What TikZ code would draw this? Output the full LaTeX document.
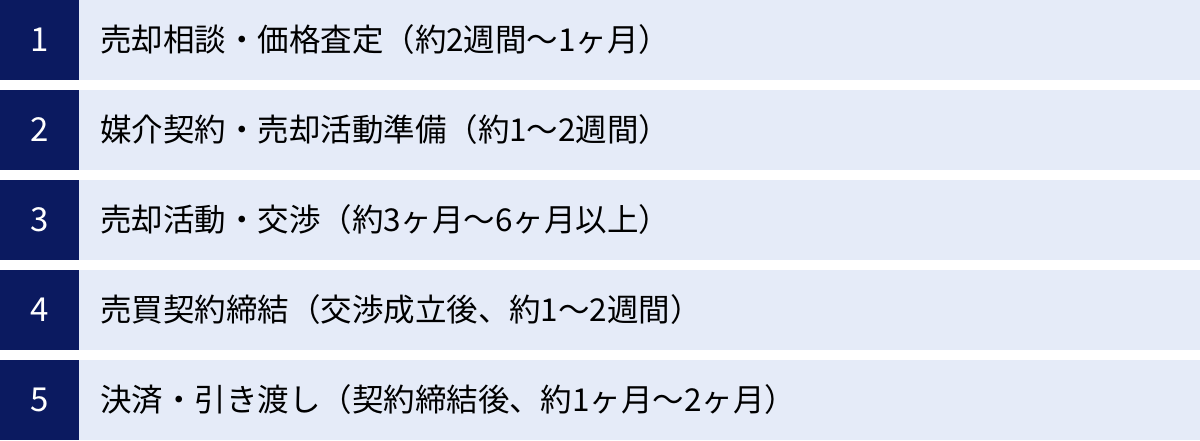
\documentclass[tikz,border=0pt]{standalone}
\usepackage{fontspec}
\setmainfont{Noto Sans CJK JP}
\usetikzlibrary{positioning}
\definecolor{navy}{HTML}{0B1A60}
\definecolor{pale}{HTML}{E5EBF8}

\begin{document}
\begin{tikzpicture}[x=1pt, y=1pt,
	num/.style={fill=navy, text=white, minimum width=79pt, minimum height=80pt, inner sep=0pt, outer sep=0pt, font=\fontsize{33}{38}\selectfont},
	band/.style={fill=pale, text width=1079pt, inner xsep=21pt, inner ysep=0pt, minimum height=80pt, outer sep=0pt, align=left, font=\fontsize{31.5}{38}\selectfont}]
	\useasboundingbox (0,0) rectangle (1200,-441);

	\node[num, anchor=north west] (n1) at (0,0) {1};
	\node[num, below=10pt of n1] (n2) {2};
	\node[num, below=10pt of n2] (n3) {3};
	\node[num, below=10pt of n3] (n4) {4};
	\node[num, below=10pt of n4] (n5) {5};

	\node[band, right=0pt of n1] (s1) {売却相談・価格査定（約2週間〜1ヶ月）};
	\node[band, right=0pt of n2] (s2) {媒介契約・売却活動準備（約1〜2週間）};
	\node[band, right=0pt of n3] (s3) {売却活動・交渉（約3ヶ月〜6ヶ月以上）};
	\node[band, right=0pt of n4] (s4) {売買契約締結（交渉成立後、約1〜2週間）};
	\node[band, right=0pt of n5] (s5) {決済・引き渡し（契約締結後、約1ヶ月〜2ヶ月）};
\end{tikzpicture}
\end{document}
